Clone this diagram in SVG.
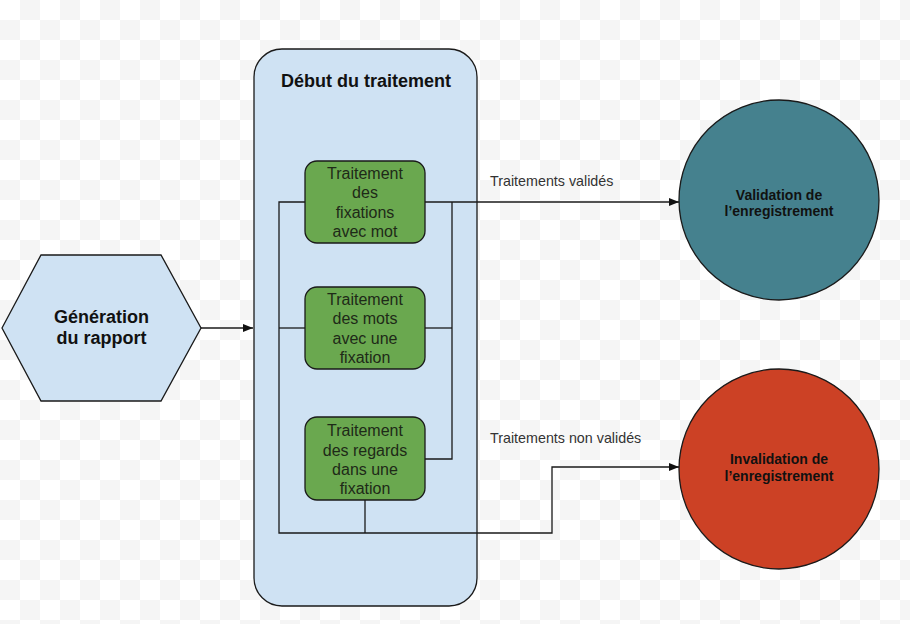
<svg xmlns="http://www.w3.org/2000/svg" width="910" height="624" viewBox="0 0 910 624">
  <style>
    .lbl { font-family: "Liberation Sans", Arial, sans-serif; }
    .title { font-size: 18px; font-weight: bold; fill: #111; text-anchor: middle; }
    .box { fill: #6aa84f; stroke: #1a1a1a; stroke-width: 1.3; }
    .boxtxt { font-size: 16px; fill: #1e2a18; text-anchor: middle; }
    .circtxt { font-size: 14px; font-weight: bold; fill: #111; text-anchor: middle; }
    .edge { fill: none; stroke: #1a1a1a; stroke-width: 1.3; }
    .elbl { font-size: 14.3px; fill: #333; }
  </style>
  <defs>
    <pattern id="checker" width="40" height="40" patternUnits="userSpaceOnUse">
      <rect width="40" height="40" fill="#ffffff"/>
      <rect x="20" y="0" width="20" height="20" fill="#f5f5f5"/>
      <rect x="0" y="20" width="20" height="20" fill="#f5f5f5"/>
    </pattern>
    <marker id="arrow" viewBox="0 0 10 10" refX="10" refY="5" markerWidth="10" markerHeight="10" markerUnits="userSpaceOnUse" orient="auto">
      <path d="M0,1 L10,5 L0,9 Z" fill="#111"/>
    </marker>
  </defs>

  <rect width="910" height="624" fill="url(#checker)"/>

  <g id="container">
    <rect x="254" y="49" width="223" height="557" rx="28" ry="28" fill="#cfe2f3" stroke="#1a1a1a" stroke-width="1.3"/>
    <text class="lbl title" x="366" y="87">Début du traitement</text>
  </g>

  <g id="generation">
    <polygon points="2,328 41,255 161,255 201,328 161,401 41,401" fill="#cfe2f3" stroke="#1a1a1a" stroke-width="1.3"/>
    <text class="lbl title" x="101.5" y="323">Génération</text>
    <text class="lbl title" x="101.5" y="344">du rapport</text>
  </g>

  <g id="connectors">
    <path class="edge" d="M201,328 L253,328" marker-end="url(#arrow)"/>
    <path class="edge" d="M305,202 L279,202 L279,533 L552,533 L552,467 L679,467" marker-end="url(#arrow)"/>
    <path class="edge" d="M279,328 L305,328"/>
    <path class="edge" d="M365,500 L365,533"/>
    <path class="edge" d="M425,202 L679,202" marker-end="url(#arrow)"/>
    <path class="edge" d="M452,202 L452,459 L425,459"/>
    <path class="edge" d="M425,328 L452,328"/>
    <text class="lbl elbl" x="490" y="186">Traitements validés</text>
    <text class="lbl elbl" x="490" y="443">Traitements non validés</text>
  </g>

  <g id="box1">
    <rect class="box" x="305" y="161" width="120" height="82" rx="12" ry="12"/>
    <text class="lbl boxtxt" x="365" y="179">Traitement</text>
    <text class="lbl boxtxt" x="365" y="198">des</text>
    <text class="lbl boxtxt" x="365" y="217.5">fixations</text>
    <text class="lbl boxtxt" x="365" y="236.5">avec mot</text>
  </g>

  <g id="box2">
    <rect class="box" x="305" y="287" width="120" height="82" rx="12" ry="12"/>
    <text class="lbl boxtxt" x="365" y="305">Traitement</text>
    <text class="lbl boxtxt" x="365" y="324">des mots</text>
    <text class="lbl boxtxt" x="365" y="343.5">avec une</text>
    <text class="lbl boxtxt" x="365" y="362.5">fixation</text>
  </g>

  <g id="box3">
    <rect class="box" x="305" y="417" width="120" height="83" rx="12" ry="12"/>
    <text class="lbl boxtxt" x="365" y="436">Traitement</text>
    <text class="lbl boxtxt" x="365" y="455.5">des regards</text>
    <text class="lbl boxtxt" x="365" y="475">dans une</text>
    <text class="lbl boxtxt" x="365" y="494">fixation</text>
  </g>

  <g id="validation">
    <circle cx="779" cy="200" r="100" fill="#45818e" stroke="#1a1a1a" stroke-width="1.3"/>
    <text class="lbl circtxt" x="779" y="200">Validation de</text>
    <text class="lbl circtxt" x="779" y="216">l’enregistrement</text>
  </g>

  <g id="invalidation">
    <circle cx="779" cy="469" r="100" fill="#cc4125" stroke="#1a1a1a" stroke-width="1.3"/>
    <text class="lbl circtxt" x="779" y="464">Invalidation de</text>
    <text class="lbl circtxt" x="779" y="481">l’enregistrement</text>
  </g>
</svg>
